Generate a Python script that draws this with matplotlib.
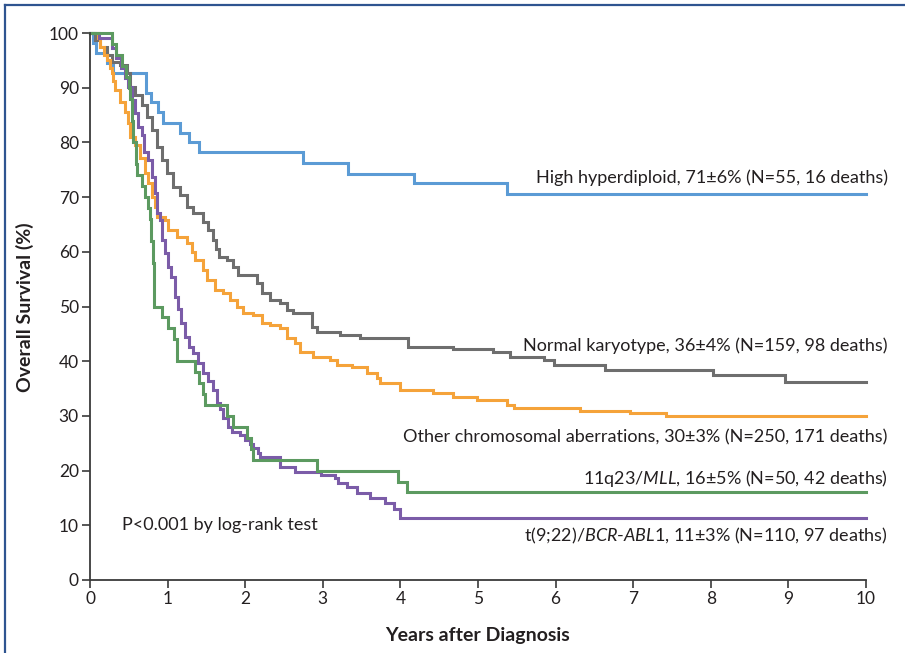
import numpy as np
import matplotlib
matplotlib.use("Agg")
import matplotlib.pyplot as plt
from matplotlib.lines import Line2D

plt.rcParams['font.family'] = ['Lato', 'DejaVu Sans']
plt.rcParams['mathtext.fontset'] = 'custom'
plt.rcParams['mathtext.rm'] = 'Lato'
plt.rcParams['mathtext.it'] = 'Lato:italic'

# Kaplan-Meier step curves (years, % surviving)
hyper_t = [0, 0.04, 0.08, 0.22, 0.29, 0.72, 0.79, 0.88, 0.94, 1.16, 1.27, 1.40, 2.75, 3.33, 4.18, 5.38, 10]
hyper_s = [100, 98.2, 96.4, 94.5, 92.7, 89.1, 87.3, 85.5, 83.6, 81.8, 80.0, 78.2, 76.2, 74.3, 72.5, 70.6, 70.6]

normal_t = [0, 0.06, 0.13, 0.22, 0.28, 0.39, 0.48, 0.52, 0.58, 0.67, 0.73, 0.80, 0.86, 0.93, 0.99,
            1.07, 1.16, 1.25, 1.33, 1.46, 1.52, 1.59, 1.62, 1.66, 1.77, 1.84, 1.91, 2.15, 2.22, 2.32,
            2.45, 2.54, 2.62, 2.86, 2.93, 3.22, 3.48, 4.10, 4.68, 5.19, 5.41, 5.85, 5.98, 6.64, 8.03,
            8.96, 10]
normal_s = [100, 98.7, 97.4, 96.0, 94.7, 94.1, 92.7, 90.1, 88.7, 86.8, 84.6, 82.3, 79.2, 76.8, 74.4,
            71.8, 70.4, 68.2, 67.1, 65.5, 64.0, 62.2, 60.6, 59.1, 58.5, 57.2, 55.8, 54.3, 52.5, 51.2,
            50.6, 49.4, 48.8, 46.3, 45.3, 44.8, 44.2, 42.6, 42.2, 41.7, 40.8, 40.2, 39.3, 38.4, 37.4,
            36.2, 36.2]

other_t = [0, 0.10, 0.13, 0.18, 0.22, 0.26, 0.28, 0.30, 0.32, 0.39, 0.45, 0.49, 0.52, 0.58, 0.64,
           0.71, 0.75, 0.80, 0.84, 0.86, 0.97, 1.01, 1.12, 1.25, 1.31, 1.35, 1.46, 1.51, 1.61, 1.71,
           1.80, 1.89, 1.97, 2.10, 2.22, 2.32, 2.45, 2.54, 2.64, 2.71, 2.87, 3.09, 3.18, 3.38, 3.57,
           3.70, 3.74, 3.99, 4.42, 4.68, 4.99, 5.37, 5.46, 6.31, 6.96, 7.42, 10]
other_s = [100, 99.0, 97.4, 96.0, 95.0, 93.6, 92.7, 91.2, 89.6, 87.4, 85.6, 83.5, 81.0, 79.5, 77.1,
           74.4, 72.6, 70.0, 68.2, 66.4, 65.8, 64.0, 62.7, 61.6, 60.0, 58.5, 56.7, 54.8, 53.0, 52.5,
           51.2, 49.9, 48.8, 48.4, 47.0, 46.6, 46.1, 44.2, 43.3, 41.7, 40.8, 40.2, 39.3, 38.9, 37.8,
           36.9, 36.0, 34.7, 34.2, 33.5, 32.9, 32.0, 31.4, 30.9, 30.5, 29.9, 29.9]

mll_t = [0, 0.28, 0.34, 0.41, 0.47, 0.50, 0.52, 0.54, 0.56, 0.59, 0.61, 0.67, 0.71, 0.75, 0.77,
         0.79, 0.81, 0.82, 0.83, 0.93, 1.00, 1.08, 1.12, 1.35, 1.40, 1.45, 1.48, 1.77, 1.84, 2.02,
         2.08, 2.10, 2.92, 3.97, 4.09, 10]
mll_s = [100, 98, 96, 94, 92, 90, 88, 84, 80, 76, 74, 72, 70, 68, 66,
         62, 58, 54, 50, 48, 46, 44, 40, 38, 36, 34, 32, 30, 28, 26,
         24, 22, 20, 18, 16, 16]

bcr_t = [0, 0.12, 0.28, 0.34, 0.40, 0.45, 0.49, 0.54, 0.58, 0.62, 0.67, 0.70, 0.75, 0.80, 0.84,
         0.86, 0.90, 0.93, 0.97, 1.01, 1.05, 1.09, 1.13, 1.17, 1.22, 1.27, 1.33, 1.39, 1.46, 1.52,
         1.58, 1.64, 1.68, 1.72, 1.78, 1.83, 1.93, 2.00, 2.06, 2.10, 2.16, 2.19, 2.45, 2.64, 2.98,
         3.16, 3.20, 3.31, 3.44, 3.61, 3.80, 3.92, 4.00, 10]
bcr_s = [100, 99.1, 97.3, 95.4, 93.6, 91.8, 90.1, 87.8, 85.4, 82.8, 81.4, 78.2, 76.8, 73.7, 70.7,
         67.1, 65.8, 62.2, 59.8, 57.2, 55.4, 51.7, 49.5, 47.0, 44.4, 42.6, 41.5, 39.7, 37.8, 36.4,
         34.7, 32.4, 31.2, 29.6, 28.0, 27.0, 26.5, 25.6, 24.8, 24.1, 23.2, 22.4, 20.7, 19.8, 19.2,
         18.6, 17.7, 17.0, 15.9, 15.0, 14.0, 13.0, 11.3, 11.3]

labels = [
    "High hyperdiploid, 71\u00b16% (N=55, 16 deaths)",
    "Normal karyotype, 36\u00b14% (N=159, 98 deaths)",
    "Other chromosomal aberrations, 30\u00b13% (N=250, 171 deaths)",
    "11q23/$\\mathit{MLL}$, 16\u00b15% (N=50, 42 deaths)",
    "t(9;22)/$\\mathit{BCR}$-$\\mathit{ABL1}$, 11\u00b13% (N=110, 97 deaths)",
]
label_y = [73.5, 42.8, 26.1, 18.6, 8.0]

fig = plt.figure(figsize=(9.05, 6.53), dpi=100)
ax = fig.add_axes([90 / 905, 1 - 580 / 653, 776 / 905, 547 / 653])

curves = [(hyper_t, hyper_s, "#5b9bd5"),
          (normal_t, normal_s, "#6e6e6e"),
          (other_t, other_s, "#f5a33a"),
          (mll_t, mll_s, "#5c9a60"),
          (bcr_t, bcr_s, "#7b5ca8")]
# draw in order so the green sits on top like the original
for t, s, c in [curves[0], curves[1], curves[2], curves[4], curves[3]]:
    ax.step(t, s, where="post", color=c, lw=2.2, clip_on=False, solid_joinstyle="miter")

for lab, y in zip(labels, label_y):
    ax.text(10.28, y, lab, ha="right", va="center", fontsize=13, color="#231f20")

ax.text(0.41, 10.0, "P<0.001 by log-rank test", fontsize=13, color="#231f20", va="center")

ax.set_xlim(0, 10)
ax.set_ylim(0, 100)
ax.set_xticks(range(0, 11))
ax.set_yticks(range(0, 101, 10))
for sp in ["top", "right"]:
    ax.spines[sp].set_visible(False)
for sp in ["left", "bottom"]:
    ax.spines[sp].set_linewidth(1.3)
    ax.spines[sp].set_color("#3a3a3a")
ax.tick_params(direction="out", length=6, width=1.2, color="#3a3a3a",
               labelsize=12.5, labelcolor="#231f20", pad=2)

fig.text(478 / 905, 1 - 636 / 653, "Years after Diagnosis", ha="center", va="center",
         fontsize=14, fontweight="bold", color="#231f20")
fig.text(25 / 905, 1 - 307 / 653, "Overall Survival (%)", ha="center", va="center",
         rotation=90, fontsize=14, fontweight="bold", color="#231f20")

# frame fragment from the source image (top and left edges)
fig.add_artist(Line2D([4.5 / 905, 1], [1 - 4.5 / 653, 1 - 4.5 / 653], color="#2f5490", lw=1.6))
fig.add_artist(Line2D([4.5 / 905, 4.5 / 905], [0, 1 - 4.5 / 653], color="#2f5490", lw=1.6))

fig.savefig("out.png", dpi=100)
